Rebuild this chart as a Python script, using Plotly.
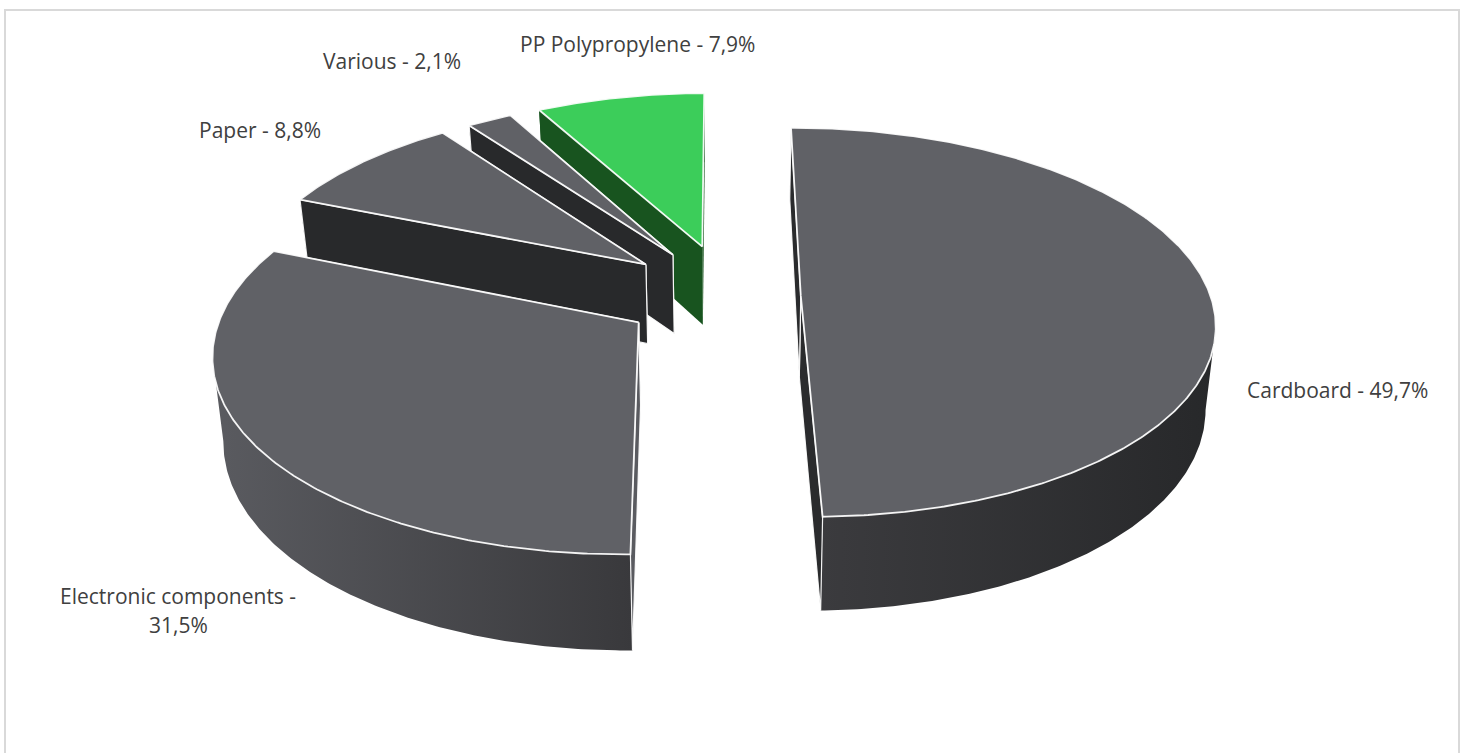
import numpy as np
import plotly.graph_objects as go

# ---- data ----
categories = ["Cardboard", "Electronic components", "Paper", "Various", "PP Polypropylene"]
shares = [49.7, 31.5, 8.8, 2.1, 7.9]

# ---- exploded-pie styling ----
explode = [0.166, 0.274, 0.275, 0.285, 0.285]
nudge_x = [0.0, 0.0, 0.0, 0.0025, -0.006]
nudge_y = [0.0, 0.02, 0.0, -0.018, -0.008]
radius = [1.0, 1.006, 0.99, 0.985, 0.975]
start_trim = [0.0, 0.5, 0.0, 0.0, 0.0]
top_color = ["#606166", "#606166", "#606166", "#606166", "#3CCD5A"]
cut_color = ["#2A2B2D", "#5A5B60", "#28292B", "#28292B", "#18541F"]
rim_left = ["#3B3B3E", "#5A5B60", "#28292B", "#28292B", "#18541F"]
rim_right = ["#27282A", "#39393C", "#28292B", "#28292B", "#18541F"]
label_xy = [(1337, 390), (178, 596), (260, 130), (392, 61), (637, 44)]
FONT = "Open Sans"
FONT_SIZE = 21
START_ANGLE = -0.2

# ---- perspective view of the pie's plane ----
XV, YV = 730.0, -1100.0       # vanishing point
W0, WK = 7.163e-4, 0.98e-4    # reciprocal depth at centre / per radius
A, C = 0.2935, 0.002
H = 0.058                     # pie thickness
TAPER = 0.021                 # bottom face is slightly smaller than the top
EDGE = "rgba(255,255,255,0.92)"


def project(X, Y, depth=0.0):
    w = W0 + WK * np.asarray(Y, dtype=float)
    return XV + (A * np.asarray(X, dtype=float) + C) / w * (1 - depth * TAPER), YV + (1 + depth * H) / w


def poly(fig, xs, ys, fill=None, lw=0.0, gradient=None):
    kw = {}
    if gradient is not None:
        kw["fillgradient"] = dict(type="horizontal",
                                  colorscale=[[0, gradient[0]], [1, gradient[1]]],
                                  start=float(np.min(xs)), stop=float(np.max(xs)))
    else:
        kw["fillcolor"] = fill
    fig.add_trace(go.Scatter(x=list(xs) + [xs[0]], y=list(ys) + [ys[0]], mode="lines", fill="toself",
                             line=dict(color=EDGE if lw else "rgba(0,0,0,0)", width=lw),
                             hoverinfo="skip", showlegend=False, **kw))


fig = go.Figure()

total = sum(shares)
edges = START_ANGLE + np.cumsum([0] + shares) / total * 360.0

for i in [4, 3, 2, 1, 0]:
    a0, a1 = edges[i] + start_trim[i], edges[i + 1]
    mid = np.radians((edges[i] + edges[i + 1]) / 2)
    ox = explode[i] * np.sin(mid) + nudge_x[i]
    oy = explode[i] * np.cos(mid) + nudge_y[i]
    r = radius[i]
    th = np.radians(np.linspace(a0, a1, max(6, int((a1 - a0) * 2))))
    X = ox + r * np.sin(th)
    Y = oy + r * np.cos(th)

    xt, yt = project(X, Y, 0)
    xb, yb = project(X, Y, 1)

    # curved rim: only the part in front of the silhouette tangent
    if i == 0:
        keep = slice(int(np.argmax(xt)), None)
    elif i == 1:
        keep = slice(0, int(np.argmin(xt)) + 1)
    else:
        keep = slice(None)
    poly(fig, np.concatenate([xt[keep], xb[keep][::-1]]), np.concatenate([yt[keep], yb[keep][::-1]]),
         gradient=(rim_left[i], rim_right[i]))

    # flat cut walls, far one first
    for th_edge in (th[-1], th[0]):
        ex = np.array([ox, ox + r * np.sin(th_edge)])
        ey = np.array([oy, oy + r * np.cos(th_edge)])
        x0, y0 = project(ex, ey, 0)
        x1, y1 = project(ex, ey, 1)
        poly(fig, [x0[0], x0[1], x1[1], x1[0]], [y0[0], y0[1], y1[1], y1[0]], cut_color[i],
             lw=0 if i == 4 else 1.2)

    # top face
    ax, ay = project([ox], [oy], 0)
    poly(fig, np.concatenate([ax, xt]), np.concatenate([ay, yt]), top_color[i], lw=1.8)

annots = []
for i, (name, val) in enumerate(zip(categories, shares)):
    pct = f"{val:.1f}%".replace(".", ",")
    lines = [f"{name} -", pct] if i == 1 else [f"{name} - {pct}"]
    lx, ly = label_xy[i]
    for j, t in enumerate(lines):
        annots.append(dict(x=lx, y=ly + j * 29, xref="x", yref="y", text=t, showarrow=False,
                           font=dict(family=FONT, size=FONT_SIZE, color="#404040"),
                           xanchor="center", yanchor="middle"))

fig.update_layout(
    width=1470, height=753, margin=dict(l=0, r=0, t=0, b=0),
    paper_bgcolor="white", plot_bgcolor="white", showlegend=False,
    xaxis=dict(range=[0, 1470], visible=False, fixedrange=True),
    yaxis=dict(range=[753, 0], visible=False, fixedrange=True),
    annotations=annots,
    shapes=[dict(type="rect", xref="x", yref="y", x0=5, x1=1459, y0=10, y1=790,
                 line=dict(color="#D9D9D9", width=2), layer="below")],
)

fig.write_html("out.html", config={"displayModeBar": False},
               post_script="document.body.style.margin='0';document.body.style.overflow='hidden';")
